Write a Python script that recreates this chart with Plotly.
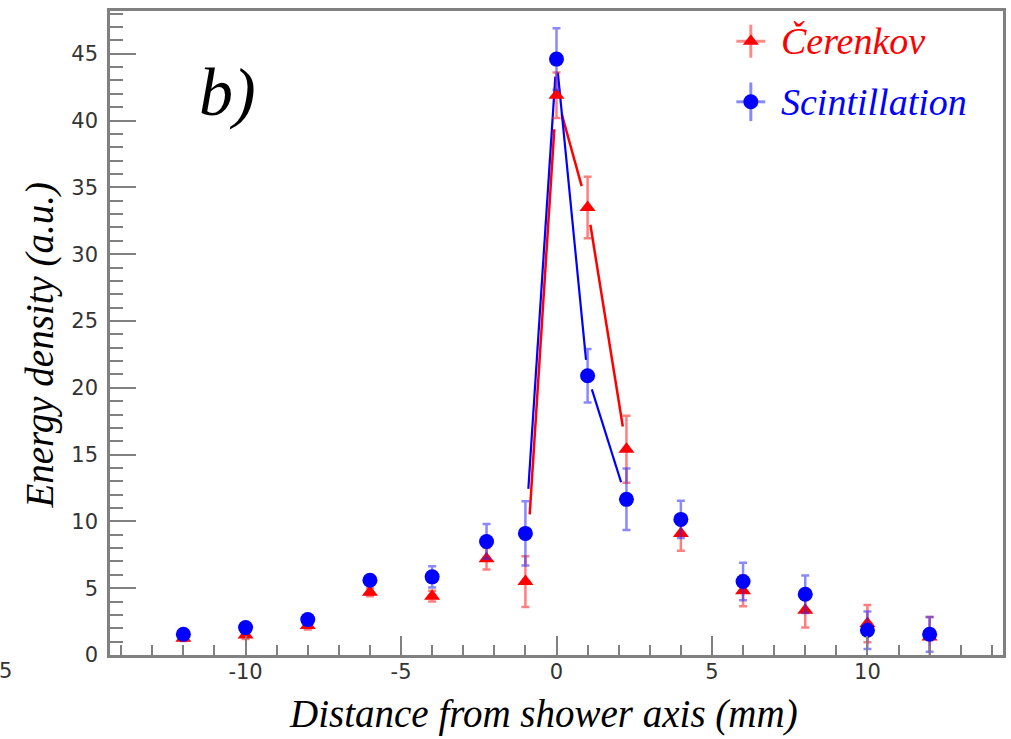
import plotly.graph_objects as go

# ---------------- data ----------------
x_pos = [-12, -10, -8, -6, -4, -2.25, -1, 0, 1, 2.25, 4, 6, 8, 10, 12]
scint = [1.55, 2.05, 2.65, 5.6, 5.85, 8.5, 9.1, 44.6, 20.9, 11.65, 10.15, 5.5, 4.55, 1.85, 1.55]
scint_err = [0.3, 0.3, 0.3, 0.3, 0.8, 1.3, 2.4, 2.3, 2.0, 2.3, 1.4, 1.4, 1.4, 1.4, 1.3]
cer = [1.25, 1.5, 2.2, 4.7, 4.4, 7.2, 5.5, 41.9, 33.5, 15.4, 9.1, 4.8, 3.35, 2.35, 1.35]
cer_err = [0.2, 0.3, 0.3, 0.3, 0.4, 0.8, 1.9, 1.7, 2.3, 2.5, 1.3, 1.15, 1.3, 1.4, 1.5]

# indices of the points joined by (gapped) connector lines near the peak
peak_idx = [6, 7, 8, 9]
# gap fractions (start, end) left open at each end of each connector segment
scint_gaps = [(0.094, 0.037), (0.042, 0.05), (0.11, 0.138)]
cer_gaps = [(0.138, 0.07), (0.17, 0.19), (0.072, 0.094)]

x_ticks = [-10, -5, 0, 5, 10]
y_ticks = [0, 5, 10, 15, 20, 25, 30, 35, 40, 45]

RED = "#ff0000"
BLUE = "#0000ff"
SERIF = "Liberation Serif"
SANS = "DejaVu Sans"
AX = "#808080"


def gapped_segments(xs, ys, idx, gaps):
    gx, gy = [], []
    for k in range(len(idx) - 1):
        i0, i1 = idx[k], idx[k + 1]
        f0, f1 = gaps[k]
        x0, y0, x1, y1 = xs[i0], ys[i0], xs[i1], ys[i1]
        gx += [x0 + f0 * (x1 - x0), x1 - f1 * (x1 - x0), None]
        gy += [y0 + f0 * (y1 - y0), y1 - f1 * (y1 - y0), None]
    return gx, gy


fig = go.Figure()

# connector lines
cx, cy = gapped_segments(x_pos, cer, peak_idx, cer_gaps)
fig.add_trace(go.Scatter(x=cx, y=cy, mode="lines", line=dict(color=RED, width=2.5),
                         showlegend=False, hoverinfo="skip"))
sx, sy = gapped_segments(x_pos, scint, peak_idx, scint_gaps)
fig.add_trace(go.Scatter(x=sx, y=sy, mode="lines", line=dict(color=BLUE, width=2.2),
                         showlegend=False, hoverinfo="skip"))

# Cerenkov points
fig.add_trace(go.Scatter(
    x=x_pos, y=cer, mode="markers", name="Čerenkov",
    marker=dict(symbol="triangle-up", size=14, color=RED, line=dict(width=0)),
    error_y=dict(type="data", array=cer_err, visible=True, color="rgba(255,40,40,0.6)",
                 thickness=2.5, width=4),
    showlegend=False))

# Scintillation points
fig.add_trace(go.Scatter(
    x=x_pos, y=scint, mode="markers", name="Scintillation",
    marker=dict(symbol="circle", size=15, color=BLUE, line=dict(width=0)),
    error_y=dict(type="data", array=scint_err, visible=True, color="rgba(40,40,255,0.55)",
                 thickness=2.5, width=4),
    showlegend=False))

# ---- legend keys (drawn on an overlay axis in plot-fraction units) ----
leg_x = [0.7176]
fig.add_trace(go.Scatter(
    x=leg_x, y=[0.953], xaxis="x2", yaxis="y2", mode="markers",
    marker=dict(symbol="triangle-up", size=14, color=RED),
    error_x=dict(type="constant", value=0.0162, color="rgba(255,40,40,0.55)", thickness=3, width=0),
    error_y=dict(type="constant", value=0.0256, color="rgba(255,40,40,0.55)", thickness=3, width=0),
    showlegend=False, hoverinfo="skip"))
fig.add_trace(go.Scatter(
    x=leg_x, y=[0.859], xaxis="x2", yaxis="y2", mode="markers",
    marker=dict(symbol="circle", size=15, color=BLUE),
    error_x=dict(type="constant", value=0.0162, color="rgba(40,40,255,0.55)", thickness=3, width=0),
    error_y=dict(type="constant", value=0.030, color="rgba(40,40,255,0.55)", thickness=3, width=0),
    showlegend=False, hoverinfo="skip"))

annotations = [
    dict(text="<i>Čerenkov</i>", x=0.749, y=0.953, xref="paper", yref="paper",
         xanchor="left", yanchor="middle", showarrow=False,
         font=dict(family=SERIF, size=38, color=RED)),
    dict(text="<i>Scintillation</i>", x=0.749, y=0.859, xref="paper", yref="paper",
         xanchor="left", yanchor="middle", showarrow=False,
         font=dict(family=SERIF, size=38, color=BLUE)),
    dict(text="<i>b)</i>", x=0.1317, y=0.874, xref="paper", yref="paper",
         xanchor="center", yanchor="middle", showarrow=False,
         font=dict(family=SERIF, size=68, color="black")),
    dict(text="<i>Distance from shower axis (mm)</i>", x=0.4855, y=-0.091,
         xref="paper", yref="paper", xanchor="center", yanchor="middle", showarrow=False,
         font=dict(family=SERIF, size=39, color="black")),
    dict(text="<i>Energy density (a.u.)</i>", x=-0.078, y=0.481, textangle=-90,
         xref="paper", yref="paper", xanchor="center", yanchor="middle", showarrow=False,
         font=dict(family=SERIF, size=39, color="black")),
    dict(text="5", x=-0.1172, y=-0.0248, xref="paper", yref="paper",
         xanchor="center", yanchor="middle", showarrow=False,
         font=dict(family=SANS, size=21, color="#333333")),
]

fig.update_layout(
    width=1011, height=739,
    margin=dict(l=110, r=5, t=11, b=84, pad=0),
    paper_bgcolor="white", plot_bgcolor="white",
    showlegend=False,
    annotations=annotations,
    xaxis=dict(range=[-14.36, 14.36], tickvals=x_ticks, ticktext=[str(v) for v in x_ticks],
               ticks="inside", ticklen=19, tickwidth=2, tickcolor=AX,
               showline=True, linecolor=AX, linewidth=2.5, mirror=True,
               showgrid=False, zeroline=False,
               tickfont=dict(family=SANS, size=21, color="#333333"),
               ticklabelstandoff=-4,
               minor=dict(dtick=1, tick0=0, ticks="inside", ticklen=10, tickwidth=2, tickcolor=AX)),
    yaxis=dict(range=[0, 48.2], tickvals=y_ticks, ticktext=[str(v) for v in y_ticks],
               ticks="inside", ticklen=26, tickwidth=2, tickcolor=AX,
               showline=True, linecolor=AX, linewidth=2.5, mirror=True,
               showgrid=False, zeroline=False,
               tickfont=dict(family=SANS, size=21, color="#333333"),
               ticklabelstandoff=5,
               minor=dict(dtick=1, tick0=0, ticks="inside", ticklen=13, tickwidth=2, tickcolor=AX)),
    xaxis2=dict(range=[0, 1], overlaying="x", visible=False, fixedrange=True),
    yaxis2=dict(range=[0, 1], overlaying="y", visible=False, fixedrange=True),
)

fig.write_html("out.html")
